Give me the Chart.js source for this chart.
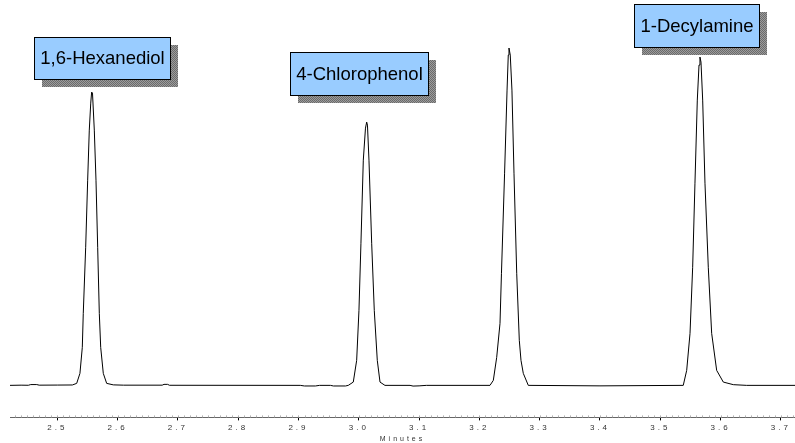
<!DOCTYPE html>
<html lang="en">
<head>
    <meta charset="UTF-8">
    <title>Chromatogram</title>
    <style>
        html, body { margin: 0; padding: 0; background: #fff; }
        #chart { display: block; }
    </style>
</head>
<body>
    <canvas id="chart" width="795" height="443"></canvas>
    <script src="https://cdn.jsdelivr.net/npm/chart.js"></script>
    <script>
        // retention time (minutes) and detector signal
        const times = [
            2.4216, 2.440, 2.452, 2.456, 2.466, 2.470, 2.500, 2.525,
            2.5322, 2.5376, 2.5415, 2.5431, 2.5471, 2.5504, 2.5531, 2.5555, 2.5570, 2.5584,
            2.5614, 2.5642, 2.5670, 2.5697, 2.5720, 2.5763, 2.5819, 2.5929,
            2.610, 2.674, 2.677, 2.683, 2.686, 2.903, 2.910, 2.928, 2.935, 2.953, 2.958, 2.978,
            2.9826, 2.9909, 2.9965, 3.0003, 3.0036, 3.0075, 3.0111, 3.0131, 3.0144,
            3.0169, 3.0214, 3.0257, 3.0307, 3.0352, 3.0434,
            3.085, 3.090, 3.100, 3.112,
            3.2176, 3.2231, 3.2287, 3.2342, 3.2366, 3.2418, 3.2459, 3.2479, 3.2491, 3.2512,
            3.2540, 3.2574, 3.2619, 3.2662, 3.2690, 3.2728, 3.2811,
            3.400, 3.5381, 3.5438, 3.5493, 3.5537, 3.5575, 3.5614, 3.5642, 3.5658, 3.5675,
            3.5703, 3.5741, 3.5796, 3.5852, 3.5935, 3.6045, 3.6211, 3.6433, 3.7234
        ];
        const signal = [
            0, 0.2, 0.1, 0.8, 0.8, 0.2, 0.3, 0.4,
            2, 12, 38, 72, 138, 205, 255, 282, 293, 292,
            255, 205, 138, 72, 38, 12, 2, 0.5,
            0.2, 0.2, 1, 1, 0.1, 0, -0.6, -0.6, 0, 0, -0.6, -0.6,
            0, 3.3, 25, 75, 142, 225, 257, 263, 260,
            225, 142, 75, 25, 3.3, 0,
            0, -0.7, -0.5, 0,
            0, 5, 28, 62, 112, 212, 295, 330, 337, 330,
            295, 212, 112, 45, 25, 12, 0,
            -0.5, 0, 15, 52, 118, 202, 285, 320, 328, 323,
            285, 202, 118, 52, 15, 3.3, 0.7, 0, 0
        ];
        const tickValues = [2.5, 2.6, 2.7, 2.8, 2.9, 3.0, 3.1, 3.2, 3.3, 3.4, 3.5, 3.6, 3.7];
        const peakNames = ['1,6-Hexanediol', '4-Chlorophenol', '1-Decylamine'];

        // label box placement (pixels)
        const boxes = [
            { x: 34, y: 37, w: 136, h: 42 },
            { x: 290, y: 52, w: 138, h: 43 },
            { x: 634, y: 4, w: 125, h: 43 }
        ];

        // dithered grey used for the box shadows
        function shadowPattern(ctx) {
            const c = document.createElement('canvas');
            c.width = 2; c.height = 2;
            const p = c.getContext('2d');
            p.fillStyle = '#9c9c9c';
            p.fillRect(0, 0, 2, 2);
            p.fillStyle = '#6a6a6a';
            p.fillRect(0, 0, 1, 1);
            p.fillRect(1, 1, 1, 1);
            return ctx.createPattern(c, 'repeat');
        }

        const chromPlugin = {
            id: 'chrom',
            beforeDraw(chart) {
                chart.ctx.letterSpacing = '3px';
            },
            afterDatasetsDraw(chart) {
                const ctx = chart.ctx;
                const xs = chart.scales.x;
                const axisY = chart.chartArea.bottom;
                ctx.save();
                ctx.letterSpacing = '0px';

                // minor ticks every 0.01 min along the axis
                ctx.strokeStyle = '#b4b4b4';
                ctx.lineWidth = 1;
                ctx.beginPath();
                for (let i = 243; i <= 372; i++) {
                    const px = Math.round(xs.getPixelForValue(i / 100)) + 0.5;
                    ctx.moveTo(px, axisY - 2);
                    ctx.lineTo(px, axisY);
                }
                ctx.stroke();

                // peak label boxes
                const pat = shadowPattern(ctx);
                ctx.font = '18.5px "Liberation Sans", Arial, sans-serif';
                ctx.textAlign = 'center';
                ctx.textBaseline = 'middle';
                boxes.forEach((b, i) => {
                    ctx.fillStyle = pat;
                    ctx.fillRect(b.x + 8, b.y + 8, b.w, b.h);
                    ctx.fillStyle = '#99ccff';
                    ctx.fillRect(b.x, b.y, b.w, b.h);
                    ctx.strokeStyle = '#000';
                    ctx.strokeRect(b.x + 0.5, b.y + 0.5, b.w, b.h);
                    ctx.fillStyle = '#000';
                    ctx.fillText(peakNames[i], b.x + b.w / 2 + 0.5, b.y + b.h / 2 + 1);
                });
                ctx.restore();
                ctx.letterSpacing = '3px';
            }
        };

        new Chart(document.getElementById('chart'), {
            type: 'scatter',
            data: {
                datasets: [{
                    data: times.map((t, i) => ({ x: t, y: signal[i] })),
                    showLine: true,
                    borderColor: '#000',
                    borderWidth: 1,
                    pointRadius: 0,
                    tension: 0
                }]
            },
            options: {
                responsive: false,
                animation: false,
                events: [],
                layout: { padding: { left: 10, right: 0, top: 0, bottom: 0 } },
                plugins: {
                    legend: { display: false },
                    tooltip: { enabled: false }
                },
                scales: {
                    x: {
                        type: 'linear',
                        min: 2.4216,
                        max: 3.7234,
                        afterBuildTicks: scale => {
                            scale.ticks = tickValues.map(v => ({ value: v }));
                        },
                        border: { display: true, color: '#666', width: 1 },
                        grid: {
                            drawOnChartArea: false,
                            drawTicks: true,
                            tickLength: 3,
                            tickColor: '#000'
                        },
                        ticks: {
                            autoSkip: false,
                            maxRotation: 0,
                            padding: 3,
                            color: '#333',
                            font: { family: '"Liberation Sans", Arial, sans-serif', size: 8 },
                            callback: v => v.toFixed(1)
                        },
                        title: {
                            display: true,
                            text: 'Minutes',
                            color: '#333',
                            padding: { top: 0, bottom: 0 },
                            font: { family: '"Liberation Sans", Arial, sans-serif', size: 7, lineHeight: 1 }
                        }
                    },
                    y: {
                        display: false,
                        min: -32,
                        max: 385
                    }
                }
            },
            plugins: [chromPlugin]
        });
    </script>
</body>
</html>
